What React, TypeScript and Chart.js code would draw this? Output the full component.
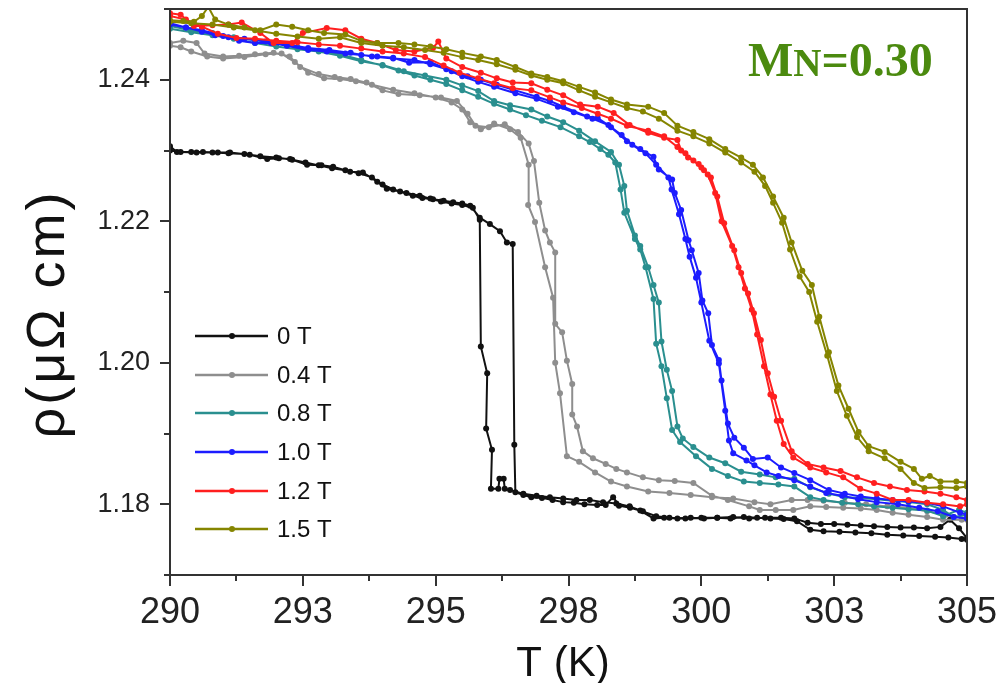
import React, { useEffect, useRef } from "react";
import { Chart, registerables } from "chart.js";

Chart.register(...registerables);

// ---------- data ----------
const seriesNames = ["0 T", "0.4 T", "0.8 T", "1.0 T", "1.2 T", "1.5 T"];
const seriesColors = ["#111111", "#8e8e8e", "#2a8f8f", "#1c1cff", "#ff1f1f", "#858500"];

const xMajorTicks = [290, 292.5, 295, 297.5, 300, 302.5, 305];
const xTickLabels = ["290", "293", "295", "298", "300", "303", "305"];
const xMinorTicks = [291.25, 293.75, 296.25, 298.75, 301.25, 303.75];
const yMajorTicks = [1.18, 1.2, 1.22, 1.24];
const yTickLabels = ["1.18", "1.20", "1.22", "1.24"];
const yMinorTicks = [1.17, 1.19, 1.21, 1.23, 1.25];

const xTitle = "T (K)";
const yTitle = "ρ(μΩ cm)";
const noteMain = "M";
const noteSmall = "N";
const noteRest = "=0.30";

// each loop: heating 290 -> 305, then cooling 305 -> 290  [T (K), rho (μΩ cm)]
const loop0T: [number, number][] = [
  [290.0,1.2306],[290.13,1.2298],[290.4,1.2298],[290.62,1.2298],[290.9,1.2297],[291.13,1.2297],[291.5,1.2294],[291.83,1.2288],[292.05,1.2289],[292.26,1.2288],[292.58,1.228],[292.85,1.2279],[293.07,1.2277],[293.39,1.227],[293.63,1.2269],[293.9,1.2256],[294.08,1.2246],[294.33,1.2242],[294.57,1.2236],[294.75,1.2233],[294.95,1.2231],[295.15,1.2229],[295.33,1.2227],[295.5,1.2225],[295.65,1.2222],[295.83,1.2205],[296.02,1.2196],[296.21,1.2186],[296.34,1.217],[296.45,1.2168],[296.48,1.1884],[296.5,1.1817],[296.65,1.1813],[296.8,1.181],[297.0,1.1809],[297.2,1.1806],[297.4,1.1803],[297.6,1.1802],[297.8,1.18],[298.04,1.1799],[298.2,1.1799],[298.34,1.181],[298.45,1.1798],[298.66,1.1795],[298.85,1.1791],[299.1,1.178],[299.3,1.1781],[299.55,1.178],[299.8,1.1781],[300.05,1.178],[300.3,1.1781],[300.55,1.178],[300.8,1.1782],[301.05,1.1781],[301.3,1.178],[301.55,1.1779],[301.8,1.1776],[302.05,1.1764],[302.3,1.1762],[302.6,1.1761],[302.9,1.176],[303.2,1.1759],[303.5,1.1757],[303.8,1.1756],[304.1,1.1755],[304.4,1.1754],[304.65,1.1753],[304.9,1.1751],[305.0,1.175],
  [305.0,1.1752],[304.85,1.1766],[304.68,1.1778],[304.5,1.1768],[304.25,1.1766],[304.0,1.1767],[303.75,1.1767],[303.5,1.1768],[303.25,1.1769],[303.0,1.177],[302.75,1.1771],[302.5,1.1772],[302.25,1.1772],[302.0,1.1774],[301.75,1.178],[301.5,1.1781],[301.2,1.1781],[300.9,1.178],[300.6,1.1782],[300.3,1.1781],[300.0,1.1781],[299.7,1.178],[299.4,1.1781],[299.15,1.1783],[298.9,1.179],[298.65,1.1797],[298.4,1.1801],[298.15,1.1803],[297.9,1.1806],[297.65,1.1806],[297.4,1.1808],[297.15,1.181],[296.9,1.1812],[296.65,1.1815],[296.4,1.182],[296.3,1.1822],[296.28,1.1836],[296.2,1.1836],[296.18,1.1822],[296.04,1.1822],[296.06,1.1877],[295.95,1.1907],[295.97,1.1985],[295.85,1.2023],[295.83,1.2202],[295.7,1.2219],[295.5,1.2223],[295.3,1.2225],[295.1,1.2228],[294.9,1.2232],[294.7,1.2236],[294.45,1.224],[294.2,1.2245],[294.0,1.2252],[293.8,1.2262],[293.55,1.2268],[293.3,1.2272],[293.05,1.2275],[292.8,1.2279],[292.55,1.2283],[292.3,1.2287],[292.0,1.229],[291.7,1.2292],[291.4,1.2295],[291.1,1.2296],[290.8,1.2297],[290.5,1.2297],[290.2,1.2298],[290.0,1.23],
];

const loop04T: [number, number][] = [
  [290.0,1.2452],[290.25,1.2455],[290.5,1.2452],[290.65,1.2437],[291.0,1.2433],[291.3,1.2434],[291.6,1.2436],[291.95,1.2438],[292.25,1.2433],[292.45,1.2418],[292.8,1.2408],[293.1,1.2404],[293.4,1.2401],[293.7,1.2396],[294.0,1.2385],[294.3,1.238],[294.7,1.2378],[295.1,1.2375],[295.4,1.237],[295.6,1.2352],[295.75,1.2335],[296.0,1.2333],[296.3,1.2337],[296.55,1.2326],[296.75,1.231],[296.85,1.2285],[296.95,1.2226],[297.06,1.2187],[297.15,1.217],[297.25,1.2156],[297.25,1.2055],[297.38,1.2043],[297.47,1.2003],[297.57,1.197],[297.57,1.1927],[297.66,1.191],[297.77,1.1875],[297.96,1.1865],[298.2,1.1857],[298.4,1.185],[298.6,1.1845],[298.9,1.1838],[299.2,1.1834],[299.5,1.1833],[299.85,1.183],[300.2,1.1812],[300.5,1.1806],[300.9,1.1797],[301.1,1.1792],[301.4,1.1792],[301.73,1.1792],[302.05,1.1797],[302.35,1.1796],[302.67,1.1795],[303.0,1.1794],[303.3,1.1792],[303.6,1.1788],[303.9,1.1785],[304.25,1.1782],[304.55,1.1778],[304.9,1.1778],[305.0,1.1778],
  [305.0,1.178],[304.6,1.1785],[304.25,1.179],[303.9,1.1795],[303.5,1.1797],[303.1,1.18],[302.7,1.1802],[302.3,1.1805],[302.0,1.1806],[301.7,1.1806],[301.3,1.18],[301.0,1.1803],[300.6,1.1808],[300.2,1.181],[299.8,1.1813],[299.4,1.1816],[299.0,1.1818],[298.6,1.1825],[298.3,1.1832],[298.0,1.1845],[297.7,1.186],[297.47,1.1868],[297.34,1.1957],[297.25,1.2],[297.21,1.2092],[297.06,1.2135],[296.87,1.2199],[296.74,1.2223],[296.75,1.228],[296.6,1.2318],[296.4,1.233],[296.1,1.2338],[295.85,1.233],[295.65,1.234],[295.5,1.2358],[295.3,1.2368],[295.0,1.2375],[294.6,1.2381],[294.2,1.2386],[293.8,1.2393],[293.5,1.2398],[293.2,1.2401],[292.9,1.2402],[292.6,1.241],[292.35,1.2425],[292.1,1.2437],[291.8,1.2436],[291.4,1.2432],[291.0,1.243],[290.7,1.2433],[290.4,1.244],[290.2,1.2446],[290.0,1.2448],
];

const loop08T: [number, number][] = [
  [290.0,1.2472],[290.4,1.2467],[290.8,1.2463],[291.2,1.2458],[291.6,1.2452],[292.0,1.2447],[292.4,1.2443],[292.8,1.244],[293.2,1.2434],[293.6,1.2426],[294.0,1.2421],[294.4,1.2412],[294.8,1.2406],[295.2,1.24],[295.5,1.2392],[295.8,1.2384],[296.1,1.237],[296.4,1.2364],[296.8,1.2358],[297.1,1.2348],[297.4,1.234],[297.7,1.2328],[298.0,1.2313],[298.3,1.2298],[298.45,1.228],[298.55,1.225],[298.6,1.2215],[298.75,1.218],[298.85,1.2165],[299.0,1.2135],[299.1,1.211],[299.2,1.2085],[299.25,1.203],[299.35,1.199],[299.45,1.196],[299.55,1.191],[299.65,1.1893],[299.85,1.1881],[300.15,1.1866],[300.45,1.1858],[300.75,1.1846],[301.1,1.1842],[301.4,1.1838],[301.75,1.1836],[302.05,1.1824],[302.4,1.1815],[302.7,1.181],[303.0,1.1809],[303.3,1.1807],[303.6,1.1805],[303.9,1.1803],[304.25,1.18],[304.55,1.1792],[304.75,1.1782],[305.0,1.1785],
  [305.0,1.1788],[304.85,1.1792],[304.55,1.1783],[304.25,1.1791],[303.9,1.1793],[303.6,1.1795],[303.25,1.1797],[302.95,1.18],[302.65,1.1802],[302.3,1.1806],[302.05,1.181],[301.75,1.1825],[301.45,1.1828],[301.1,1.183],[300.8,1.1832],[300.5,1.184],[300.2,1.185],[299.9,1.1868],[299.6,1.1888],[299.45,1.1905],[299.35,1.195],[299.25,1.1995],[299.15,1.2027],[299.1,1.209],[298.95,1.2135],[298.85,1.216],[298.75,1.2175],[298.55,1.2212],[298.48,1.2245],[298.38,1.2283],[298.25,1.2294],[298.1,1.2302],[297.9,1.2312],[297.7,1.232],[297.35,1.2333],[297.0,1.2342],[296.7,1.235],[296.4,1.2358],[296.1,1.2366],[295.8,1.2376],[295.5,1.2385],[295.2,1.2394],[294.9,1.24],[294.6,1.2406],[294.3,1.2413],[294.0,1.242],[293.6,1.2428],[293.2,1.2436],[292.8,1.2441],[292.4,1.2446],[292.0,1.2452],[291.6,1.2456],[291.2,1.246],[290.8,1.2466],[290.4,1.247],[290.0,1.2476],
];

const loop10T: [number, number][] = [
  [290.0,1.2478],[290.3,1.2474],[290.6,1.2468],[290.85,1.2463],[291.1,1.246],[291.3,1.2455],[291.6,1.2452],[291.9,1.2452],[292.2,1.2448],[292.6,1.2442],[292.95,1.244],[293.3,1.2437],[293.6,1.2435],[293.9,1.2433],[294.2,1.2431],[294.5,1.2424],[294.9,1.2425],[295.3,1.2412],[295.6,1.2405],[295.85,1.24],[296.15,1.2393],[296.45,1.2386],[296.9,1.2376],[297.15,1.237],[297.4,1.2362],[297.85,1.2348],[298.05,1.2346],[298.3,1.2333],[298.6,1.2313],[298.85,1.2302],[299.1,1.2291],[299.2,1.2273],[299.45,1.2259],[299.5,1.224],[299.62,1.2216],[299.76,1.2173],[299.82,1.2159],[299.95,1.2127],[300.02,1.2088],[300.13,1.207],[300.2,1.2025],[300.33,1.2004],[300.38,1.1975],[300.5,1.1914],[300.62,1.1894],[300.8,1.188],[300.97,1.1864],[301.25,1.1866],[301.5,1.1852],[301.75,1.1844],[302.05,1.1834],[302.4,1.182],[302.7,1.1815],[303.0,1.1811],[303.3,1.1808],[303.6,1.1806],[303.9,1.1804],[304.25,1.1802],[304.55,1.1797],[304.87,1.1788],[305.0,1.1785],
  [305.0,1.178],[304.75,1.1782],[304.45,1.179],[304.1,1.1795],[303.7,1.18],[303.3,1.1803],[302.95,1.1807],[302.65,1.1812],[302.35,1.1816],[302.05,1.1825],[301.75,1.1834],[301.45,1.184],[301.23,1.1845],[301.0,1.1855],[300.85,1.1862],[300.6,1.1872],[300.52,1.189],[300.45,1.1932],[300.33,1.1999],[300.15,1.2031],[300.0,1.2085],[299.9,1.212],[299.78,1.215],[299.7,1.2175],[299.58,1.221],[299.44,1.2245],[299.38,1.2262],[299.15,1.228],[298.95,1.2296],[298.7,1.2308],[298.5,1.2322],[298.25,1.2336],[297.95,1.2345],[297.6,1.2354],[297.3,1.2362],[296.9,1.2373],[296.5,1.2381],[296.1,1.239],[295.8,1.2397],[295.5,1.2405],[295.2,1.2415],[294.9,1.2422],[294.6,1.2428],[294.2,1.243],[293.8,1.2433],[293.4,1.2438],[293.0,1.2442],[292.6,1.2445],[292.2,1.245],[291.8,1.2454],[291.4,1.2458],[291.0,1.2462],[290.6,1.247],[290.3,1.2474],[290.0,1.248],
];

const loop12T: [number, number][] = [
  [290.0,1.2494],[290.2,1.2492],[290.45,1.2476],[290.8,1.2477],[291.1,1.2478],[291.35,1.2481],[291.7,1.2466],[291.95,1.2452],[292.3,1.2452],[292.5,1.2466],[292.95,1.2473],[293.3,1.247],[293.6,1.2458],[293.9,1.2452],[294.25,1.2442],[294.6,1.244],[294.95,1.2445],[295.05,1.2454],[295.2,1.243],[295.5,1.2418],[295.85,1.241],[296.15,1.2402],[296.45,1.2396],[296.8,1.2395],[297.1,1.2386],[297.4,1.2378],[297.72,1.2365],[298.05,1.2362],[298.35,1.2353],[298.65,1.2336],[299.0,1.2325],[299.3,1.2318],[299.55,1.2315],[299.62,1.23],[299.75,1.229],[299.95,1.2281],[300.05,1.2272],[300.18,1.2262],[300.3,1.2235],[300.43,1.2197],[300.62,1.2159],[300.75,1.2127],[300.88,1.2098],[300.99,1.207],[301.12,1.2032],[301.25,1.1985],[301.37,1.1952],[301.5,1.1918],[301.7,1.1875],[302.0,1.1857],[302.3,1.1852],[302.62,1.1847],[302.93,1.1838],[303.25,1.183],[303.55,1.1825],[303.87,1.182],[304.2,1.1818],[304.5,1.1815],[304.8,1.181],[305.0,1.1806],
  [305.0,1.18],[304.87,1.1797],[304.55,1.18],[304.25,1.1802],[303.9,1.1806],[303.6,1.1806],[303.3,1.1815],[302.99,1.1822],[302.67,1.1838],[302.35,1.1845],[302.05,1.1852],[301.73,1.1866],[301.55,1.1885],[301.42,1.1918],[301.3,1.1955],[301.18,1.1995],[301.05,1.204],[300.95,1.2075],[300.82,1.2105],[300.7,1.2135],[300.58,1.2165],[300.38,1.22],[300.26,1.224],[300.12,1.2266],[300.0,1.2276],[299.85,1.2286],[299.7,1.2296],[299.55,1.2305],[299.3,1.232],[299.0,1.2328],[298.6,1.2335],[298.3,1.2345],[298.05,1.2352],[297.75,1.236],[297.4,1.2368],[297.15,1.2375],[296.8,1.2385],[296.45,1.2388],[296.1,1.2395],[295.8,1.2402],[295.45,1.241],[295.15,1.242],[294.8,1.2432],[294.4,1.2437],[294.0,1.244],[293.6,1.2444],[293.2,1.2448],[292.8,1.245],[292.4,1.2453],[292.0,1.2455],[291.6,1.2458],[291.25,1.2459],[290.9,1.2465],[290.6,1.2475],[290.3,1.2485],[290.0,1.249],
];

const loop15T: [number, number][] = [
  [290.0,1.2484],[290.25,1.2483],[290.45,1.2482],[290.6,1.249],[290.72,1.2503],[290.85,1.2485],[291.1,1.2478],[291.4,1.2474],[291.7,1.247],[292.0,1.2478],[292.3,1.2475],[292.6,1.247],[292.9,1.2466],[293.3,1.2464],[293.6,1.2455],[293.9,1.2452],[294.3,1.2452],[294.6,1.245],[294.9,1.2447],[295.2,1.2443],[295.5,1.2438],[295.85,1.2433],[296.15,1.2428],[296.5,1.2418],[296.8,1.2409],[297.1,1.2404],[297.4,1.2398],[297.7,1.239],[298.0,1.2382],[298.3,1.2372],[298.6,1.2365],[299.0,1.2362],[299.3,1.2353],[299.55,1.2335],[299.85,1.2326],[300.15,1.2316],[300.45,1.2302],[300.75,1.229],[300.97,1.228],[301.16,1.2262],[301.35,1.2235],[301.55,1.2205],[301.7,1.217],[301.9,1.213],[302.08,1.211],[302.22,1.2065],[302.4,1.2015],[302.58,1.1968],[302.77,1.1935],[302.96,1.1902],[303.15,1.1882],[303.45,1.1874],[303.75,1.186],[304.0,1.185],[304.15,1.1836],[304.3,1.184],[304.5,1.1832],[304.8,1.1832],[305.0,1.183],
  [305.0,1.1825],[304.8,1.1823],[304.5,1.1824],[304.2,1.1823],[304.0,1.183],[303.75,1.185],[303.45,1.1865],[303.15,1.1875],[302.93,1.1895],[302.74,1.1925],[302.55,1.196],[302.37,1.201],[302.18,1.2058],[302.03,1.21],[301.85,1.2122],[301.67,1.216],[301.52,1.2198],[301.35,1.2226],[301.2,1.225],[301.0,1.227],[300.75,1.2283],[300.45,1.2297],[300.15,1.231],[299.85,1.232],[299.55,1.2328],[299.2,1.2345],[298.9,1.2355],[298.6,1.236],[298.3,1.2368],[298.0,1.2376],[297.7,1.2385],[297.4,1.2395],[297.1,1.24],[296.8,1.2406],[296.5,1.2414],[296.15,1.2422],[295.8,1.2428],[295.5,1.2432],[295.15,1.2438],[294.8,1.2442],[294.4,1.2446],[294.0,1.2448],[293.6,1.2452],[293.2,1.246],[292.8,1.2458],[292.4,1.2461],[292.0,1.2465],[291.6,1.247],[291.2,1.2474],[290.8,1.2478],[290.4,1.248],[290.0,1.2482],
];

const seriesLoops = [loop0T, loop04T, loop08T, loop10T, loop12T, loop15T];

// ---------- styles ----------
const SANS = "'Liberation Sans', Arial, sans-serif";
const SERIF = "'Liberation Serif', 'Times New Roman', serif";
const frameColor = "#333333";
const textColor = "#222222";
const noteColor = "#4b8a0f";

const decorPlugin = {
  id: "decor",
  afterDraw(chart: any) {
    const { ctx, chartArea, scales } = chart;
    const { left, right, top, bottom } = chartArea;
    const xs = scales.x;
    const ys = scales.y;
    ctx.save();
    // frame
    ctx.strokeStyle = frameColor;
    ctx.lineWidth = 2;
    ctx.strokeRect(left, top, right - left, bottom - top);
    // ticks (outward)
    ctx.beginPath();
    xMajorTicks.forEach((v) => {
      const px = Math.round(xs.getPixelForValue(v));
      ctx.moveTo(px, bottom);
      ctx.lineTo(px, bottom + 11);
    });
    xMinorTicks.forEach((v) => {
      const px = Math.round(xs.getPixelForValue(v));
      ctx.moveTo(px, bottom);
      ctx.lineTo(px, bottom + 6);
    });
    yMajorTicks.forEach((v) => {
      const py = Math.round(ys.getPixelForValue(v));
      ctx.moveTo(left, py);
      ctx.lineTo(left - 10, py);
    });
    yMinorTicks.forEach((v) => {
      const py = Math.round(ys.getPixelForValue(v));
      ctx.moveTo(left, py);
      ctx.lineTo(left - 6, py);
    });
    ctx.stroke();

    // axis titles
    ctx.fillStyle = "#111";
    ctx.font = `42px ${SANS}`;
    ctx.textAlign = "center";
    ctx.textBaseline = "alphabetic";
    ctx.fillText(xTitle, 563, 676);

    ctx.save();
    ctx.translate(64, 314);
    ctx.rotate(-Math.PI / 2);
    ctx.font = `54px ${SANS}`;
    (ctx as any).letterSpacing = "3px";
    ctx.textAlign = "center";
    ctx.fillText(yTitle, 0, 0);
    ctx.restore();

    // legend
    const rowY = [336, 375, 413, 452, 491, 529];
    ctx.font = `24px ${SANS}`;
    ctx.textAlign = "left";
    ctx.textBaseline = "middle";
    seriesNames.forEach((name, i) => {
      const yy = rowY[i];
      ctx.strokeStyle = seriesColors[i];
      ctx.lineWidth = 2.5;
      ctx.beginPath();
      ctx.moveTo(195, yy);
      ctx.lineTo(268, yy);
      ctx.stroke();
      ctx.fillStyle = seriesColors[i];
      ctx.beginPath();
      ctx.arc(232, yy, 3, 0, Math.PI * 2);
      ctx.fill();
      ctx.fillStyle = "#111";
      ctx.fillText(name, 277, yy + 1);
    });

    // annotation
    ctx.fillStyle = noteColor;
    ctx.textAlign = "left";
    ctx.textBaseline = "alphabetic";
    let nx = 748;
    ctx.font = `bold 48px ${SERIF}`;
    ctx.fillText(noteMain, nx, 76);
    nx += ctx.measureText(noteMain).width;
    ctx.font = `bold 39px ${SERIF}`;
    ctx.fillText(noteSmall, nx, 76);
    nx += ctx.measureText(noteSmall).width;
    ctx.font = `bold 48px ${SERIF}`;
    ctx.fillText(noteRest, nx, 76);
    ctx.restore();
  },
};

export default function App() {
  const ref = useRef<HTMLCanvasElement | null>(null);

  useEffect(() => {
    if (!ref.current) return;
    const datasets = seriesLoops.map((loop, i) => ({
      label: seriesNames[i],
      data: loop.map(([x, y]) => ({ x, y })),
      showLine: true,
      borderColor: seriesColors[i],
      backgroundColor: seriesColors[i],
      borderWidth: 2,
      pointRadius: 3,
      pointBorderWidth: 0,
      pointHoverRadius: 0,
      order: seriesLoops.length - i,
    }));

    const chart = new Chart(ref.current, {
      type: "scatter",
      data: { datasets },
      options: {
        responsive: false,
        animation: false,
        devicePixelRatio: 1,
        layout: { padding: { top: 9, right: 41, left: 0, bottom: 0 } },
        plugins: { legend: { display: false }, tooltip: { enabled: false } },
        events: [],
        scales: {
          x: {
            type: "linear",
            min: 290,
            max: 305,
            afterFit: (s: any) => {
              s.height = 108;
              s.paddingLeft = 0;
              s.paddingRight = 0;
              s.paddingTop = 0;
              s.paddingBottom = 0;
            },
            afterBuildTicks: (s: any) => {
              s.ticks = xMajorTicks.map((v) => ({ value: v }));
            },
            ticks: {
              autoSkip: false,
              maxRotation: 0,
              padding: 16,
              color: textColor,
              font: { family: SANS, size: 36 },
              callback: (_v: any, i: number) => xTickLabels[i],
            },
            grid: { display: false, drawTicks: false },
            border: { display: false },
          },
          y: {
            type: "linear",
            min: 1.17,
            max: 1.25,
            afterFit: (s: any) => {
              s.width = 170;
              s.paddingLeft = 0;
              s.paddingRight = 0;
              s.paddingTop = 0;
              s.paddingBottom = 0;
            },
            afterBuildTicks: (s: any) => {
              s.ticks = yMajorTicks.map((v) => ({ value: v }));
            },
            ticks: {
              autoSkip: false,
              padding: 20,
              color: textColor,
              font: { family: SANS, size: 27 },
              callback: (_v: any, i: number) => yTickLabels[i],
            },
            grid: { display: false, drawTicks: false },
            border: { display: false },
          },
        },
      },
      plugins: [decorPlugin],
    });
    return () => chart.destroy();
  }, []);

  return (
    <div style={{ position: "fixed", left: 0, top: 0, width: 1008, height: 683, background: "#fff" }}>
      <canvas ref={ref} width={1008} height={683} style={{ display: "block" }} />
    </div>
  );
}
